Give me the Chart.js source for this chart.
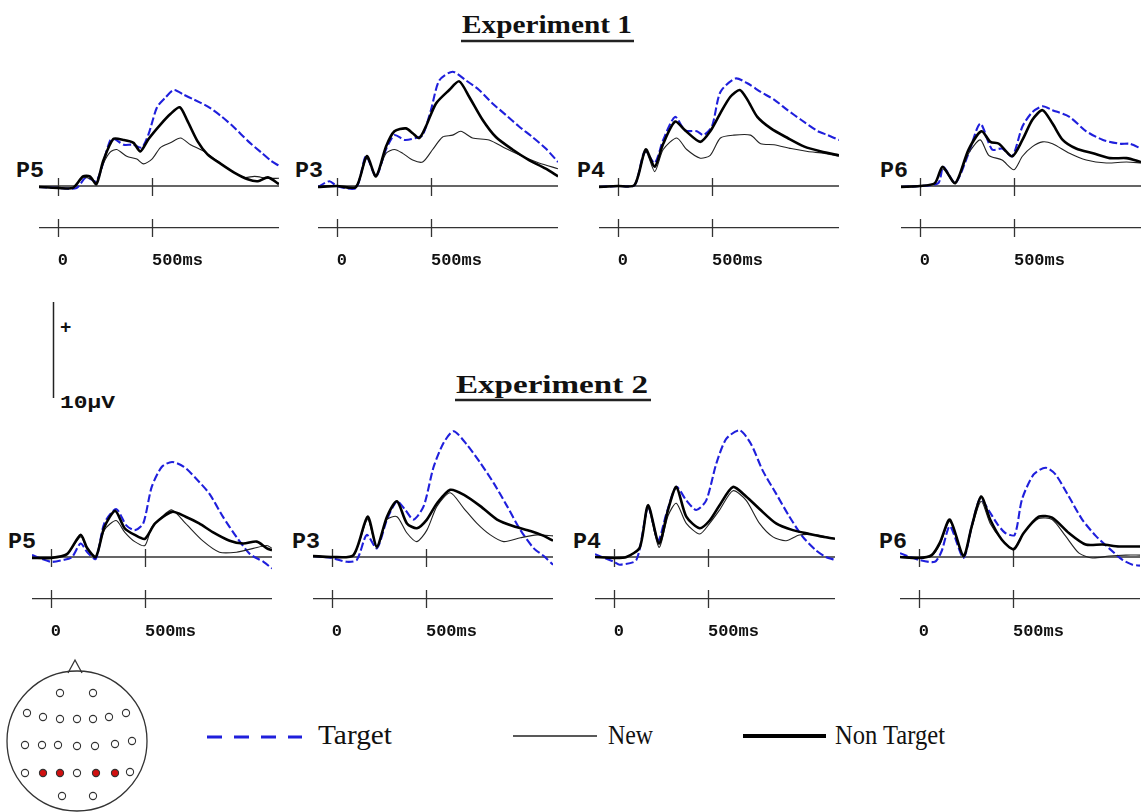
<!DOCTYPE html>
<html>
<head>
<meta charset="utf-8">
<script src="https://cdn.jsdelivr.net/npm/chart.js@4.4.0/dist/chart.umd.min.js"></script>
<style>
body { margin:0; background:#fff; width:1142px; height:812px; overflow:hidden; position:relative; }
.panel { position:absolute; }
#deco { position:absolute; left:0; top:0; pointer-events:none; }
</style>
</head>
<body>
<svg id="deco" width="1142" height="812"></svg>
<script>
// time axis (ms) and tick labels
var xTickValues = [0, 500];
var xTickLabels = ['0', '500ms'];
var seriesNames = ['Non Target', 'New', 'Target'];

// Experiment 1 : [ms, µV]
var e1P5Target = [[-100,-0.1],[0,-0.2],[100,-0.2],[150,0.9],[205,0.5],[277,4.7],[300,4.9],[350,4.3],[400,4.3],[446,4.0],[482,5.4],[527,8.2],[571,9.2],[616,10.0],[670,9.5],[723,9.0],[795,8.3],[866,7.3],[937,6.1],[1009,4.7],[1080,3.5],[1134,2.6],[1175,2.1]];
var e1P5NonTarget = [[-100,-0.1],[0,-0.2],[80,-0.2],[134,1.0],[170,1.0],[205,0.2],[241,2.6],[295,4.9],[348,4.8],[402,4.5],[438,3.6],[482,4.9],[545,6.4],[598,7.5],[648,8.2],[688,6.8],[741,4.7],[795,3.3],[866,2.3],[937,1.4],[1009,0.7],[1063,0.5],[1116,0.9],[1175,0.2]];
var e1P5New = [[-100,-0.1],[0,-0.2],[80,-0.2],[134,0.9],[179,0.7],[205,0.3],[241,2.3],[277,3.5],[313,3.8],[366,3.1],[420,2.8],[455,2.3],[500,2.8],[545,4.0],[598,4.5],[652,5.0],[705,4.3],[777,3.6],[848,2.6],[920,1.6],[991,0.9],[1045,1.0],[1116,0.8],[1175,0.8]];

var e1P3Target = [[-100,-0.1],[-39,0.5],[0,0],[102,-0.2],[155,3.1],[208,1.0],[261,3.8],[306,5.3],[360,4.8],[420,5.0],[456,5.3],[500,7.9],[544,11.0],[615,11.9],[686,11.0],[756,10.0],[827,8.6],[898,7.4],[968,6.2],[1039,5.1],[1110,3.9],[1175,2.5]];
var e1P3NonTarget = [[-100,-0.1],[0,0],[102,-0.1],[159,3.1],[208,1.0],[261,4.1],[306,5.7],[367,6.0],[403,5.5],[438,5.0],[473,6.2],[527,8.6],[597,10.0],[650,10.9],[703,9.3],[774,6.9],[845,5.1],[933,3.8],[1021,2.7],[1110,1.8],[1175,1.0]];
var e1P3New = [[-100,-0.1],[0,0],[102,-0.1],[159,2.9],[208,1.1],[261,3.4],[306,3.8],[350,3.4],[403,2.7],[456,2.5],[509,3.8],[562,5.1],[615,5.3],[659,5.7],[721,5.0],[809,4.8],[898,3.9],[986,3.1],[1074,2.4],[1175,1.8]];

var e1P4Target = [[-100,-0.1],[0,0],[89,0.1],[143,3.6],[196,2.4],[241,4.8],[304,7.2],[357,5.8],[420,5.7],[455,5.3],[500,6.2],[545,9.8],[625,11.2],[688,10.7],[759,9.8],[830,9.0],[902,7.9],[973,6.9],[1063,5.7],[1116,5.3],[1175,4.8]];
var e1P4NonTarget = [[-100,-0.1],[0,0],[89,0.1],[148,3.8],[196,2.0],[241,4.4],[304,6.7],[357,5.8],[438,4.6],[491,5.7],[545,7.6],[598,9.3],[648,10.0],[688,9.0],[741,7.2],[813,6.0],[902,5.0],[991,4.1],[1080,3.6],[1175,3.2]];
var e1P4New = [[-100,-0.1],[0,0],[89,0.1],[148,3.6],[196,1.5],[241,3.8],[313,5.0],[366,3.8],[438,2.9],[491,3.2],[545,5.0],[616,5.3],[705,5.3],[759,4.4],[830,4.3],[920,3.9],[1009,3.6],[1098,3.4],[1175,3.1]];

var e1P6Target = [[-100,-0.1],[0,0],[98,0.3],[125,2.0],[188,0.3],[259,3.4],[321,6.5],[384,3.8],[437,3.9],[491,3.1],[545,6.2],[598,7.7],[652,8.3],[705,7.9],[795,7.2],[884,5.7],[973,4.8],[1063,4.4],[1116,4.4],[1175,3.9]];
var e1P6NonTarget = [[-100,-0.1],[0,0],[80,0.3],[121,2.0],[188,0.3],[259,3.8],[327,5.7],[375,4.6],[420,4.4],[491,3.1],[545,4.8],[598,6.9],[652,7.9],[705,6.5],[759,4.8],[830,3.9],[920,3.4],[1009,2.9],[1098,2.9],[1175,2.5]];
var e1P6New = [[-100,-0.1],[0,0],[80,0.3],[121,1.8],[188,0.3],[259,3.4],[321,4.8],[366,3.2],[437,2.7],[500,1.7],[545,3.1],[598,4.1],[652,4.6],[705,4.4],[795,3.4],[884,2.7],[991,2.4],[1098,2.5],[1175,2.4]];

// Experiment 2
var e2P5Target = [[-100,0.2],[0,-0.5],[68,-0.3],[113,0],[158,1.4],[194,0.5],[239,-0.2],[284,3.5],[347,5.0],[401,3.3],[446,2.8],[491,3.5],[536,7.3],[590,9.4],[644,9.9],[707,9.4],[770,8.2],[842,6.6],[914,4.2],[986,2.1],[1058,0.3],[1130,-0.5],[1175,-1.2]];
var e2P5NonTarget = [[-100,-0.1],[0,-0.1],[86,0.3],[158,2.3],[194,0.9],[239,0],[284,3.1],[342,4.8],[392,3.0],[446,2.3],[500,1.9],[554,3.5],[644,4.7],[716,4.2],[788,3.5],[860,2.6],[950,1.7],[1022,1.4],[1094,1.6],[1148,0.9],[1175,0.7]];
var e2P5New = [[-100,0],[0,-0.1],[86,0.3],[158,2.1],[194,0.8],[239,0],[284,2.8],[347,3.8],[392,2.6],[446,1.6],[500,1.2],[536,3.1],[590,4.2],[644,4.9],[716,3.5],[806,1.7],[896,0.5],[986,0.5],[1076,0.9],[1148,1.2],[1175,0.9]];

var e2P3Target = [[-100,0.1],[0,-0.1],[80,-0.5],[133,-0.3],[186,2.3],[239,0.9],[293,3.9],[346,5.8],[390,4.9],[434,3.9],[488,5.3],[541,9.4],[594,11.9],[647,13.1],[718,11.7],[789,9.8],[860,7.7],[931,5.3],[1002,2.8],[1073,0.9],[1126,0.1],[1175,-0.8]];
var e2P3NonTarget = [[-100,0.1],[0,0],[115,0.2],[190,4.2],[239,1.1],[293,4.2],[346,5.8],[399,3.5],[452,3.0],[505,3.9],[559,5.6],[629,7.0],[700,6.5],[789,5.3],[878,3.9],[966,3.2],[1055,2.7],[1126,2.2],[1175,1.7]];
var e2P3New = [[-100,0.1],[0,0],[115,0.2],[190,3.9],[239,0.9],[293,3.9],[346,4.2],[399,2.5],[452,1.6],[505,2.8],[559,5.3],[629,6.7],[700,5.1],[771,3.5],[842,2.3],[913,1.6],[1002,2.0],[1090,2.3],[1175,2.2]];

var e2P4Target = [[-100,0.3],[0,-0.5],[32,-0.8],[120,-0.3],[182,5.2],[235,1.7],[279,4.5],[332,7.3],[385,5.9],[438,4.9],[491,5.9],[544,9.7],[597,12.3],[668,13.2],[728,11.8],[791,9.0],[862,6.6],[933,4.2],[1004,2.1],[1074,0.7],[1127,0],[1175,-0.3]];
var e2P4NonTarget = [[-100,0],[0,-0.1],[67,0],[138,1.0],[182,5.4],[240,1.4],[288,4.9],[332,7.3],[385,4.2],[456,3.0],[509,3.8],[562,5.4],[633,7.3],[703,6.3],[774,5.0],[862,3.5],[951,2.8],[1039,2.4],[1110,2.1],[1175,1.9]];
var e2P4New = [[-100,0],[0,-0.1],[67,0],[138,1.0],[182,5.1],[240,1.0],[288,4.3],[332,5.6],[385,3.5],[456,2.4],[509,3.5],[562,4.9],[633,6.9],[703,5.9],[774,3.5],[845,2.1],[915,1.7],[986,2.3],[1074,2.3],[1175,1.9]];

var e2P6Target = [[-100,0.4],[0,-0.3],[85,-0.5],[121,0.6],[165,3.2],[237,-0.1],[281,3.2],[326,6.1],[370,4.9],[415,3.5],[459,2.5],[509,2.3],[548,6.0],[610,8.6],[673,9.3],[726,8.6],[797,6.3],[868,3.9],[940,2.2],[1011,0.9],[1082,-0.3],[1135,-0.8],[1175,-0.9]];
var e2P6NonTarget = [[-100,0],[0,-0.1],[68,0.2],[112,1.5],[165,3.9],[237,0.1],[281,3.2],[331,6.3],[379,3.9],[441,1.8],[504,0.8],[557,2.5],[637,4.2],[708,4.1],[797,2.5],[886,1.3],[975,1.3],[1064,1.1],[1175,1.1]];
var e2P6New = [[-100,0],[0,-0.1],[68,0.1],[112,1.3],[165,3.7],[237,0],[281,3.0],[331,5.8],[379,3.5],[441,1.8],[504,0.9],[557,2.5],[637,4.0],[708,3.9],[779,2.2],[851,0.4],[922,-0.1],[1011,0.1],[1100,0.2],[1175,0.2]];

// layout
var T_MIN = -100, T_MAX = 1175;
var PX_MS = 0.188;     // px per ms
var PX_UV = 9.6;       // px per µV (10µV bar = 96px)
var TOP_PX = 135, AXIS_GAP = 42, AXIS_H = 50;

var panels = [
  {name:'P5', x0:58,  base:186, data:[e1P5NonTarget, e1P5New, e1P5Target], lx:16,  ly:177},
  {name:'P3', x0:337, base:186, data:[e1P3NonTarget, e1P3New, e1P3Target], lx:295, ly:177},
  {name:'P4', x0:618, base:186, data:[e1P4NonTarget, e1P4New, e1P4Target], lx:577, ly:177},
  {name:'P6', x0:920, base:186, data:[e1P6NonTarget, e1P6New, e1P6Target], lx:880, ly:177},
  {name:'P5', x0:51,  base:557, data:[e2P5NonTarget, e2P5New, e2P5Target], lx:8,   ly:548},
  {name:'P3', x0:332, base:557, data:[e2P3NonTarget, e2P3New, e2P3Target], lx:292, ly:548},
  {name:'P4', x0:614, base:557, data:[e2P4NonTarget, e2P4New, e2P4Target], lx:573, ly:548},
  {name:'P6', x0:919, base:557, data:[e2P6NonTarget, e2P6New, e2P6Target], lx:879, ly:548}
];

var lineStyles = [
  {borderColor:'#000', borderWidth:2.6},
  {borderColor:'#222', borderWidth:1.1},
  {borderColor:'#1f1fdc', borderWidth:2.1, borderDash:[8,3]}
];

// baseline at 0 µV plus the little crossing ticks
var axisMarks = {
  id: 'axisMarks',
  beforeDatasetsDraw: function(chart) {
    var ctx = chart.ctx, area = chart.chartArea;
    var xs = chart.scales.x, ys = chart.scales.y;
    var y0 = ys.getPixelForValue(0);
    ctx.save();
    ctx.strokeStyle = '#333';
    ctx.lineWidth = 1.3;
    ctx.beginPath();
    ctx.moveTo(area.left, y0);
    ctx.lineTo(area.right, y0);
    xTickValues.forEach(function(v) {
      var px = Math.round(xs.getPixelForValue(v)) + 0.5;
      ctx.moveTo(px, y0 - 8);
      ctx.lineTo(px, y0 + 10);
      ctx.moveTo(px, area.bottom - 9);
      ctx.lineTo(px, area.bottom + 9);
    });
    ctx.stroke();
    ctx.restore();
  }
};

panels.forEach(function(p) {
  var left = Math.round(p.x0 + T_MIN * PX_MS);
  var width = Math.round((T_MAX - T_MIN) * PX_MS);
  var wrap = document.createElement('div');
  wrap.className = 'panel';
  wrap.style.left = left + 'px';
  wrap.style.top = (p.base - TOP_PX) + 'px';
  var cv = document.createElement('canvas');
  cv.width = width;
  cv.height = TOP_PX + AXIS_GAP + AXIS_H;
  wrap.appendChild(cv);
  document.body.appendChild(wrap);

  new Chart(cv, {
    type: 'line',
    data: {
      datasets: p.data.map(function(d, i) {
        return Object.assign({label: seriesNames[i], data: d, pointRadius: 0, tension: 0.25, fill: false}, lineStyles[i]);
      })
    },
    options: {
      responsive: false,
      animation: false,
      layout: {padding: 0},
      plugins: {legend: {display: false}, tooltip: {enabled: false}},
      scales: {
        x: {
          type: 'linear', min: T_MIN, max: T_MAX,
          afterBuildTicks: function(s) { s.ticks = xTickValues.map(function(v) { return {value: v}; }); },
          afterFit: function(s) { s.height = AXIS_H; },
          grid: {display: false, drawTicks: true, tickLength: 23},
          border: {display: true, color: '#333', width: 1.3},
          ticks: {
            align: 'start', padding: 0, color: '#111',
            font: {family: 'Liberation Mono', weight: 'bold', size: 17},
            callback: function(v, i) { return xTickLabels[i]; }
          }
        },
        y: {display: false, min: -AXIS_GAP / PX_UV, max: TOP_PX / PX_UV}
      }
    },
    plugins: [axisMarks]
  });
});

// titles, channel names, scale bar, legend and electrode map
var svg = document.getElementById('deco');
var NS = 'http://www.w3.org/2000/svg';
function el(tag, attrs, text) {
  var e = document.createElementNS(NS, tag);
  for (var k in attrs) e.setAttribute(k, attrs[k]);
  if (text) e.textContent = text;
  svg.appendChild(e);
  return e;
}
var serif = "'Liberation Serif', 'Times New Roman', serif";
var mono = "'Liberation Mono', 'Courier New', monospace";

el('text', {x:462, y:33, 'font-family':serif, 'font-weight':'bold', 'font-size':26, textLength:170, lengthAdjust:'spacingAndGlyphs', fill:'#111'}, 'Experiment 1');
el('line', {x1:461, x2:634, y1:41, y2:41, stroke:'#222', 'stroke-width':2.4});
el('text', {x:456, y:393, 'font-family':serif, 'font-weight':'bold', 'font-size':26, textLength:192, lengthAdjust:'spacingAndGlyphs', fill:'#111'}, 'Experiment 2');
el('line', {x1:455, x2:651, y1:400, y2:400, stroke:'#222', 'stroke-width':2.4});

panels.forEach(function(p) {
  el('text', {x:p.lx, y:p.ly, 'font-family':mono, 'font-weight':'bold', 'font-size':22, textLength:28, lengthAdjust:'spacingAndGlyphs', fill:'#111'}, p.name);
});

// 10µV scale bar
el('line', {x1:53.5, x2:53.5, y1:302, y2:398, stroke:'#222', 'stroke-width':1.5});
el('text', {x:60, y:333, 'font-family':mono, 'font-weight':'bold', 'font-size':19, fill:'#111'}, '+');
el('text', {x:60, y:408, 'font-family':mono, 'font-weight':'bold', 'font-size':18, textLength:55, lengthAdjust:'spacingAndGlyphs', fill:'#111'}, '10µV');

// legend
el('line', {x1:207, x2:302, y1:737, y2:737, stroke:'#1f1fdc', 'stroke-width':3, 'stroke-dasharray':'15 12'});
el('text', {x:318, y:744, 'font-family':serif, 'font-size':27, textLength:74, lengthAdjust:'spacingAndGlyphs', fill:'#111'}, 'Target');
el('line', {x1:513, x2:597, y1:736, y2:736, stroke:'#222', 'stroke-width':1.3});
el('text', {x:608, y:744, 'font-family':serif, 'font-size':27, textLength:45, lengthAdjust:'spacingAndGlyphs', fill:'#111'}, 'New');
el('line', {x1:743, x2:826, y1:736, y2:736, stroke:'#000', 'stroke-width':4});
el('text', {x:835, y:744, 'font-family':serif, 'font-size':27, textLength:110, lengthAdjust:'spacingAndGlyphs', fill:'#111'}, 'Non Target');

// head with electrodes
el('circle', {cx:77, cy:741, r:70, fill:'none', stroke:'#333', 'stroke-width':1.3});
el('polyline', {points:'68,673 75,660 82,673', fill:'none', stroke:'#333', 'stroke-width':1.3});
var electrodes = [
  [60,693],[93,693],
  [27,713],[43,717],[60,719],[77,719],[93,719],[109,717],[126,713],
  [25,745],[42,745],[58,745],[77,746],[95,746],[115,744],[132,741],
  [25,773],[43,773,1],[60,773,1],[77,773],[96,773,1],[115,773,1],[130,772],
  [62,796],[93,796]
];
electrodes.forEach(function(e) {
  el('circle', {cx:e[0], cy:e[1], r:3.6, fill:e[2] ? '#d01010' : '#fff', stroke:'#333', 'stroke-width':1.1});
});
</script>
</body>
</html>
